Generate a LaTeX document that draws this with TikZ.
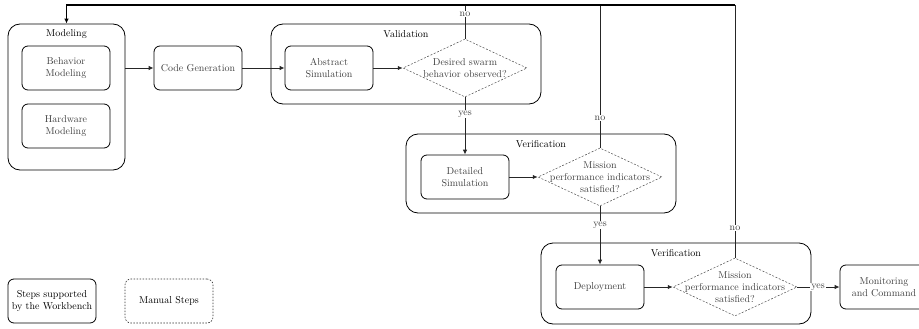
\documentclass[tikz,border=0pt]{standalone}
\usetikzlibrary{shapes.geometric,arrows.meta}
\begin{document}
\begin{tikzpicture}[x=1pt,y=-1pt,
  box/.style={draw, rounded corners=6pt, line width=0.8pt, minimum width=88pt, minimum height=44pt, align=center, text=black!75, inner sep=0pt},
  group/.style={draw, rounded corners=12pt, line width=0.8pt, inner sep=0pt},
  dia/.style={draw=black!70, dash pattern=on 2pt off 1.6pt, shape=diamond, minimum width=124pt, minimum height=58pt, inner sep=0pt, line width=0.5pt},
  dtext/.style={align=center, text=black!75, inner sep=0pt},
  grouptitle/.style={inner sep=0pt},
  conn/.style={line width=0.9pt, draw=black!85},
  arr/.style={conn, -{Latex[length=5pt,width=4.5pt]}},
  lbl/.style={fill=white, inner sep=1pt, text=black!75}
]
\useasboundingbox (0,0) rectangle (919,329);
% groups
\node[group, minimum width=117pt, minimum height=146pt] (modeling) at (66.5,97) {};
\node[grouptitle] (tmod) at (66.5,34) {Modeling};
\node[group, minimum width=270pt, minimum height=80pt] (valid) at (406,64) {};
\node[grouptitle] (tval) at (406,34) {Validation};
\node[group, minimum width=270pt, minimum height=79pt] (ver1) at (541,173.5) {};
\node[grouptitle] (tver1) at (541,144) {Verification};
\node[group, minimum width=270pt, minimum height=81pt] (ver2) at (676,283.5) {};
\node[grouptitle] (tver2) at (676,253) {Verification};
% steps
\node[box] (behav) at (66,68) {Behavior\\Modeling};
\node[box] (hard) at (66,126) {Hardware\\Modeling};
\node[box] (codegen) at (198,68) {Code Generation};
\node[box] (abs) at (329,68) {Abstract\\Simulation};
\node[dia] (d1) at (465,68) {};
\node[dtext] (t1) at (d1) {Desired swarm\\behavior observed?};
\node[box] (det) at (465,177) {Detailed\\Simulation};
\node[dia] (d2) at (600,177) {};
\node[dtext] (t2) at (d2) {Mission\\performance indicators\\satisfied?};
\node[box] (deploy) at (600,287) {Deployment};
\node[dia] (d3) at (735,287) {};
\node[dtext] (t3) at (d3) {Mission\\performance indicators\\satisfied?};
\node[box] (monitor) at (884,287) {Monitoring\\and Command};
% legend
\node[box, text=black] (lg1) at (52,301) {Steps supported\\by the Workbench};
\node[box, text=black, draw=black!80, dash pattern=on 1.5pt off 1.5pt, line width=0.6pt] (lg2) at (169,301) {Manual Steps};
% connectors
\coordinate (top) at (0,5);
\draw[arr] (modeling.east |- codegen.west) -- (codegen.west);
\draw[arr] (codegen.east) -- (abs.west);
\draw[arr] (abs.east) -- (d1.west);
\draw[arr] (d1.south) -- (det.north);
\draw[arr] (det.east) -- (d2.west);
\draw[arr] (d2.south) -- (deploy.north);
\draw[arr] (deploy.east) -- (d3.west);
\draw[arr] (d3.east) -- (monitor.west);
\draw[conn] (d1.north) -- (d1.north |- top);
\draw[conn] (d2.north) -- (d2.north |- top);
\draw[conn] (d3.north) -- (d3.north |- top);
\draw[arr, line width=1.2pt, draw=black] (d3.north |- top) -| (modeling.north);
% labels
\node[lbl] (no1) at (465,14) {no};
\node[lbl] (yes1) at (465,114) {yes};
\node[lbl] (no2) at (600,118) {no};
\node[lbl] (yes2) at (600,225) {yes};
\node[lbl] (no3) at (735,228) {no};
\node[lbl] (yes3) at (818,287) {yes};
\end{tikzpicture}
\end{document}
